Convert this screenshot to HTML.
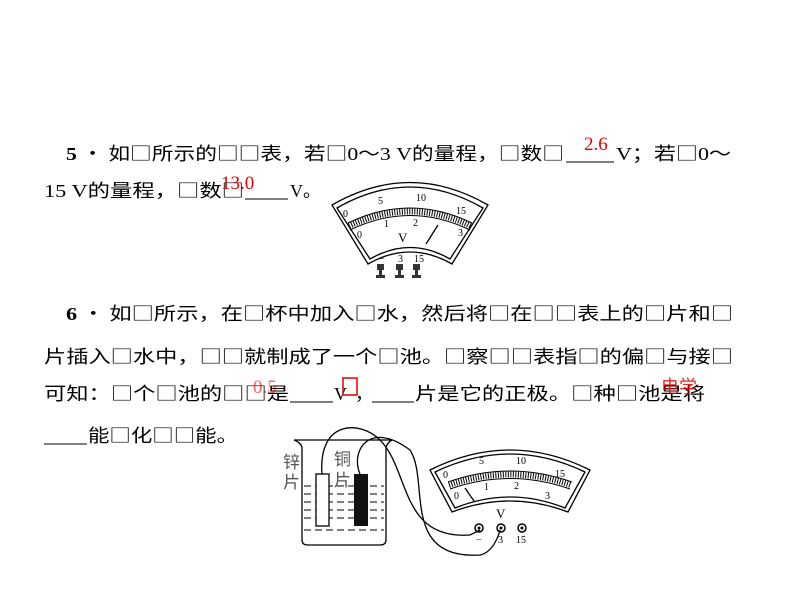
<!DOCTYPE html>
<html><head><meta charset="utf-8"><style>
body{margin:0;background:#fff;}
svg{display:block}
text{font-family:"Liberation Serif","Noto Sans CJK SC",serif;font-size:18px;fill:#000}
.c{font-family:"Noto Sans CJK SC",sans-serif}
.l{font-family:"Liberation Serif",serif}
.r{fill:#e00000;font-family:"Liberation Serif",serif;font-size:19px}
.s{font-size:10px;font-family:"Liberation Serif",serif}
</style></head><body>
<svg width="800" height="600" viewBox="0 0 800 600" xmlns="http://www.w3.org/2000/svg">
<text x="66" y="160" class="c" textLength="498" lengthAdjust="spacingAndGlyphs"><tspan font-weight="bold" class="l">5</tspan> · 如□所示的□□表，若□<tspan class="l">0</tspan>～<tspan class="l">3 V</tspan>的量程，□数□</text>
<line x1="566" y1="162" x2="614" y2="162" stroke="#000"/>
<text x="616" y="160" class="c" textLength="115" lengthAdjust="spacingAndGlyphs"><tspan class="l">V</tspan>；若□<tspan class="l">0</tspan>～</text>
<text x="584" y="150" class="r">2.6</text>
<text x="44" y="197" class="c" textLength="200" lengthAdjust="spacingAndGlyphs"><tspan class="l">15 V</tspan>的量程，□数□</text>
<line x1="245" y1="199" x2="288" y2="199" stroke="#000"/>
<text x="290" y="197" class="c"><tspan class="l">V</tspan>。</text>
<text x="221" y="189" class="r">13.0</text>

<text x="66" y="320" class="c" textLength="667" lengthAdjust="spacingAndGlyphs"><tspan font-weight="bold" class="l">6</tspan> · 如□所示，在□杯中加入□水，然后将□在□□表上的□片和□</text>
<text x="44" y="363" class="c" textLength="689" lengthAdjust="spacingAndGlyphs">片插入□水中，□□就制成了一个□池。□察□□表指□的偏□与接□</text>
<text x="44" y="400" class="c" textLength="245" lengthAdjust="spacingAndGlyphs">可知：□个□池的□□是</text>
<line x1="290" y1="402" x2="333" y2="402" stroke="#000"/>
<text x="334" y="400" class="l">V</text>
<text x="355" y="400" class="c">，</text>
<line x1="372" y1="402" x2="414" y2="402" stroke="#000"/>
<text x="415" y="400" class="c" textLength="290" lengthAdjust="spacingAndGlyphs">片是它的正极。□种□池是将</text>
<text x="253" y="393" class="r" font-size="16" opacity="0.6">0.5</text>
<rect x="343" y="378" width="14" height="17" fill="none" stroke="#e00000" stroke-width="1.5"/>
<text x="661" y="393" opacity="0.85" style="font-family:'Noto Sans CJK SC',sans-serif;fill:#e00000;font-size:18px">电学</text>
<line x1="44" y1="444" x2="87" y2="444" stroke="#000"/>
<text x="88" y="442" class="c" textLength="150" lengthAdjust="spacingAndGlyphs">能□化□□能。</text>

<!-- meter 1 -->
<g fill="none" stroke="#000" stroke-width="1.3">
<path d="M332 205 Q410 160 488 205 L452 264 Q410 240 368 264 Z"/>
<path d="M337 208 Q410 166 483 208 L450 259 Q410 236 370 259 Z"/>
<path d="M348 223 Q410 193 472 223" stroke-width="1"/>
<path d="M350 230 Q410 201 470 230" stroke-width="1"/>
<path d="M349 226 Q410 197 471 226" stroke-width="6" stroke-dasharray="1 1.5"/>
<line x1="426" y1="244" x2="438" y2="225"/>
</g>
<text class="s" x="343" y="217">0</text><text class="s" x="378" y="204">5</text><text class="s" x="416" y="201">10</text><text class="s" x="456" y="214">15</text>
<text class="s" x="384" y="227">1</text><text class="s" x="413" y="226">2</text><text class="s" x="357" y="238">0</text><text class="s" x="458" y="236">3</text>
<text x="398" y="242" style="font-size:13px">V</text>
<text class="s" x="379" y="262">−</text><text class="s" x="398" y="262">3</text><text class="s" x="414" y="262">15</text>
<g fill="#333"><rect x="377" y="264" width="7" height="6"/><rect x="396" y="264" width="7" height="6"/><rect x="413" y="264" width="7" height="6"/>
<rect x="379" y="270" width="3" height="5"/><rect x="398" y="270" width="3" height="5"/><rect x="415" y="270" width="3" height="5"/>
<rect x="376" y="275" width="9" height="3"/><rect x="395" y="275" width="9" height="3"/><rect x="412" y="275" width="9" height="3"/></g>

<!-- beaker -->
<g fill="none" stroke="#000" stroke-width="1.3">
<path d="M294 440 Q300 442 302 447 L302 540 Q302 545 308 545 L380 545 Q386 545 386 540 L386 447 Q388 442 392 440 Z"/>
<g stroke-dasharray="7 4" stroke-width="1">
<line x1="304" y1="486" x2="384" y2="486"/><line x1="304" y1="494" x2="384" y2="494"/><line x1="304" y1="502" x2="384" y2="502"/><line x1="304" y1="510" x2="384" y2="510"/><line x1="304" y1="518" x2="384" y2="518"/><line x1="304" y1="530" x2="384" y2="530"/></g>
<rect x="316" y="474" width="13" height="52" fill="#fff"/>
<path d="M322 474 C318 420 360 420 380 440 C410 470 400 540 470 535 L480 530"/>
<path d="M360 474 C350 450 370 420 410 450 C430 480 400 560 480 555 C495 552 500 530 500 530"/>
</g>
<rect x="354" y="474" width="14" height="52" fill="#111"/>
<text x="283" y="468" style="font-size:17px;font-family:'Noto Sans CJK SC',sans-serif;fill:#555">锌</text>
<text x="283" y="488" style="font-size:17px;font-family:'Noto Sans CJK SC',sans-serif;fill:#555">片</text>
<text x="334" y="465" style="font-size:17px;font-family:'Noto Sans CJK SC',sans-serif;fill:#555">铜</text>
<text x="334" y="486" style="font-size:17px;font-family:'Noto Sans CJK SC',sans-serif;fill:#555">片</text>

<!-- meter 2 -->
<g fill="none" stroke="#000" stroke-width="1.3">
<path d="M430 470 Q510 430 590 470 L568 512 Q510 490 452 512 Z"/>
<path d="M435 472 Q510 436 585 472 L565 508 Q510 486 455 508 Z"/>
<path d="M448 482 Q510 460 572 482" stroke-width="1"/>
<path d="M450 489 Q510 468 570 489" stroke-width="1"/>
<path d="M449 485 Q510 464 571 485" stroke-width="6" stroke-dasharray="1 1.5"/>
<line x1="474" y1="501" x2="465" y2="488"/>
</g>
<text class="s" x="443" y="478">0</text><text class="s" x="479" y="464">5</text><text class="s" x="516" y="464">10</text><text class="s" x="555" y="477">15</text>
<text class="s" x="484" y="490">1</text><text class="s" x="514" y="489">2</text><text class="s" x="454" y="499">0</text><text class="s" x="545" y="499">3</text>
<text x="496" y="518" style="font-size:13px">V</text>
<g fill="none" stroke="#000" stroke-width="1.5"><circle cx="479" cy="528" r="4"/><circle cx="501" cy="528" r="4"/><circle cx="522" cy="528" r="4"/></g>
<g fill="#000"><circle cx="479" cy="528" r="1.5"/><circle cx="501" cy="528" r="1.5"/><circle cx="522" cy="528" r="1.5"/></g>
<text class="s" x="476" y="543">−</text><text class="s" x="498" y="543">3</text><text class="s" x="516" y="543">15</text>
</svg>
</body></html>
